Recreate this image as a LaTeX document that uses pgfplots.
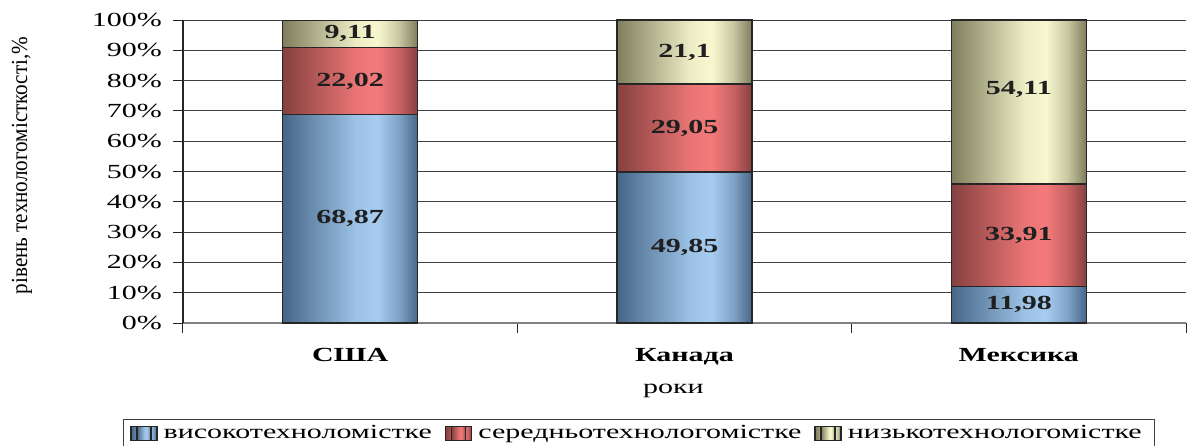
\documentclass[border=0pt]{standalone}
\usepackage{fontspec}
\setmainfont{Liberation Serif}[FakeStretch=1.5]
\newfontfamily\ylabfont{Liberation Serif}[FakeStretch=0.92]
\usepackage{pgfplots}
\pgfplotsset{compat=1.18}
\definecolor{bdark}{RGB}{70,102,136}
\definecolor{blight}{RGB}{166,204,240}
\definecolor{rdark}{RGB}{134,64,64}
\definecolor{rlight}{RGB}{244,122,122}
\definecolor{ydark}{RGB}{126,126,94}
\definecolor{ylight}{RGB}{248,248,208}
\pgfdeclarehorizontalshading{hishade}{100bp}{color(0bp)=(bdark); color(25bp)=(bdark); color(40bp)=(blight!50!bdark); color(52bp)=(blight!90!bdark); color(60bp)=(blight); color(68bp)=(blight!60!bdark); color(75bp)=(bdark); color(100bp)=(bdark)}
\pgfdeclarehorizontalshading{midshade}{100bp}{color(0bp)=(rdark); color(25bp)=(rdark); color(40bp)=(rlight!50!rdark); color(52bp)=(rlight!90!rdark); color(60bp)=(rlight); color(68bp)=(rlight!60!rdark); color(75bp)=(rdark); color(100bp)=(rdark)}
\pgfdeclarehorizontalshading{loshade}{100bp}{color(0bp)=(ydark); color(25bp)=(ydark); color(40bp)=(ylight!50!ydark); color(52bp)=(ylight!90!ydark); color(60bp)=(ylight); color(68bp)=(ylight!60!ydark); color(75bp)=(ydark); color(100bp)=(ydark)}
\pgfplotsset{
  frame/.style={scale only axis, width=501.5pt, height=151.5pt,
    xmin=-0.5, xmax=2.5, ymin=0, ymax=100},
  bars/.style={frame, ybar stacked, bar width=67.5pt},
  hi/.style={draw=black!85, line width=0.75pt, shade, shading=hishade},
  mid/.style={draw=black!85, line width=0.75pt, shade, shading=midshade},
  lo/.style={draw=black!85, line width=0.75pt, shade, shading=loshade},
}
\begin{document}
\begin{tikzpicture}
% USA bars and the whole frame
\begin{axis}[
  bars,
  xtick={-0.5,0.5,1.5,2.5}, xticklabels={{},{},{},{}},
  extra x ticks={0,1,2},
  extra x tick labels={США,Канада,Мексика},
  extra x tick style={major tick length=0pt, xticklabel style={font=\bfseries, yshift=-9pt}},
  ytick={0,10,...,100},
  yticklabel={\pgfmathprintnumber{\tick}\%},
  yticklabel style={xshift=-2pt},
  /pgf/number format/assume math mode=true,
  axis x line*=bottom, axis y line*=left,
  x axis line style={black!50, line width=1pt},
  y axis line style={black!85, line width=0.6pt},
  tick align=outside, major tick length=5pt,
  tick style={black!85, line width=0.5pt},
  ymajorgrids, grid style={black!75, line width=0.5pt},
  xlabel={роки},
  xlabel style={at={(axis description cs:0.489,0)}, anchor=center, yshift=-34pt},
  ylabel={\ylabfont\fontsize{11.5}{13}\selectfont рівень технологомісткості,\%},
  ylabel style={at={(axis description cs:-0.1605,0.52)}, anchor=center},
  legend columns=3,
  legend style={at={(axis description cs:0.4546,-0.3168)}, anchor=north,
    draw=black!75, line width=0.5pt, inner xsep=3.5pt, inner ysep=2pt,
    column sep=0pt, /tikz/every even column/.append style={column sep=3.5pt},
    nodes={inner xsep=3pt, inner ysep=1pt}},
  legend cell align=left,
  legend image code/.code={\path (0pt,-3.5pt) rectangle (13pt,3.5pt);
    \draw[#1] (3pt,-3.5pt) rectangle (10pt,3.5pt);},
]
\addplot[hi]  coordinates {(0,68.87)};
\addplot[mid] coordinates {(0,22.02)};
\addplot[lo]  coordinates {(0,9.11)};
\legend{високотехноломістке, середньотехнологомістке, низькотехнологомістке}
\end{axis}
% Canada
\begin{axis}[bars, hide axis]
\addplot[hi]  coordinates {(1,49.85)};
\addplot[mid] coordinates {(1,29.05)};
\addplot[lo]  coordinates {(1,21.1)};
\end{axis}
% Mexico
\begin{axis}[bars, hide axis]
\addplot[hi]  coordinates {(2,11.98)};
\addplot[mid] coordinates {(2,33.91)};
\addplot[lo]  coordinates {(2,54.11)};
\end{axis}
% value labels, centred in each segment
\begin{axis}[
  frame, hide axis,
  point meta=explicit symbolic,
  nodes near coords,
  nodes near coords style={font=\bfseries, text=black!88, anchor=center},
]
\addplot[draw=none, mark=none, nodes near coords] coordinates {(0,34.435)[68{,}87] (1,24.925)[49{,}85] (2,5.99)[11{,}98]};
\addplot[draw=none, mark=none, nodes near coords] coordinates {(0,79.88)[22{,}02] (1,64.375)[29{,}05] (2,28.935)[33{,}91]};
\addplot[draw=none, mark=none, nodes near coords] coordinates {(0,95.445)[9{,}11] (1,89.45)[21{,}1] (2,77.055)[54{,}11]};
\end{axis}
\pgfresetboundingbox
\path[use as bounding box] (-91.5pt,-61pt) rectangle (502.5pt,161.5pt);
\end{tikzpicture}
\end{document}
